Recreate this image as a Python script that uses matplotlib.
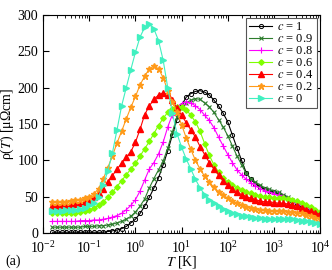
import matplotlib
matplotlib.use("Agg")
import matplotlib.pyplot as plt
import numpy as np

plt.rcParams['font.family'] = ['Liberation Serif', 'DejaVu Serif']
plt.rcParams['mathtext.fontset'] = 'stix'

# log10(T) grid of the calculation
log_T = [-1.8, -1.7, -1.6, -1.5, -1.4, -1.3, -1.2, -1.1, -1.0, -0.9,
         -0.8, -0.7, -0.6, -0.5, -0.4, -0.3, -0.2, -0.1, 0.0, 0.1,
         0.2, 0.3, 0.4, 0.5, 0.6, 0.7, 0.8, 0.9, 1.0, 1.1,
         1.2, 1.3, 1.4, 1.5, 1.6, 1.7, 1.8, 1.9, 2.0, 2.1,
         2.2, 2.3, 2.4, 2.5, 2.6, 2.7, 2.8, 2.9, 3.0, 3.1,
         3.2, 3.3, 3.4, 3.5, 3.6, 3.7, 3.8, 3.9, 4.0]

rho_c1 = [1, 1, 1, 1, 1, 1, 1, 1, 1, 1,
          1, 1, 2, 3, 4, 6, 9, 14, 19, 27,
          37, 49, 62, 76, 94, 113, 135, 156, 176, 187,
          192, 195, 196, 194, 190, 183, 175, 165, 153, 135,
          117, 100, 83, 74, 68, 64, 61, 58, 56, 54,
          51, 47, 44, 40, 37, 34, 31, 28, 25]
rho_c09 = [8, 8, 8, 8, 8, 8, 8, 9, 9, 9,
           10, 10, 11, 12, 14, 16, 19, 23, 29, 37,
           47, 62, 75, 87, 99, 117, 139, 160, 172, 179,
           183, 185, 184, 179, 174, 166, 156, 146, 134, 120,
           106, 94, 82, 75, 70, 66, 62, 60, 58, 56,
           53, 49, 45, 41, 38, 35, 32, 30, 27]
rho_c08 = [16, 16, 16, 16, 16, 16, 17, 17, 17, 18,
           18, 19, 20, 22, 24, 27, 32, 38, 46, 58,
           73, 88, 97, 109, 125, 146, 163, 174, 178, 181,
           179, 175, 170, 162, 155, 145, 132, 120, 108, 97,
           87, 80, 74, 69, 65, 61, 58, 56, 54, 52,
           50, 47, 44, 41, 38, 35, 32, 28, 25]
rho_c06 = [27, 27, 27, 27, 28, 28, 29, 30, 32, 34,
           38, 43, 49, 56, 64, 72, 80, 88, 96, 106,
           116, 126, 137, 148, 158, 166, 171, 174, 174, 170,
           162, 153, 140, 123, 107, 94, 84, 76, 70, 66,
           62, 59, 57, 55, 53, 51, 50, 49, 48, 48,
           48, 47, 46, 44, 42, 39, 36, 32, 29]
rho_c04 = [37, 37, 38, 38, 39, 40, 41, 43, 46, 50,
           55, 61, 70, 79, 88, 96, 104, 112, 125, 143,
           163, 175, 184, 190, 193, 190, 183, 172, 162, 152,
           142, 132, 119, 108, 97, 88, 80, 72, 66, 61,
           56, 53, 50, 48, 46, 44, 43, 43, 42, 41,
           41, 40, 39, 37, 35, 32, 30, 28, 26]
rho_c02 = [43, 43, 43, 43, 44, 45, 46, 48, 50, 54,
           61, 74, 90, 106, 124, 140, 157, 173, 188, 204,
           216, 226, 230, 226, 214, 196, 180, 166, 149, 131,
           115, 100, 88, 78, 70, 63, 57, 52, 48, 44,
           41, 39, 36, 34, 33, 32, 31, 30, 30, 30,
           30, 29, 29, 28, 27, 25, 23, 21, 19]
rho_c0 = [30, 30, 30, 31, 31, 32, 33, 35, 38, 42,
          50, 66, 85, 110, 142, 175, 200, 225, 249, 270,
          283, 288, 281, 265, 238, 200, 165, 137, 118, 102,
          88, 74, 62, 53, 46, 41, 37, 33, 30, 28,
          26, 24, 23, 22, 21, 20, 19, 19, 19, 19,
          19, 19, 19, 18, 17, 16, 15, 14, 12]

labels = ['$c$ = 1', '$c$ = 0.9', '$c$ = 0.8', '$c$ = 0.6',
          '$c$ = 0.4', '$c$ = 0.2', '$c$ = 0']

T = 10.0 ** np.array(log_T)

fig = plt.figure(figsize=(3.32, 2.70), dpi=100)
ax = fig.add_axes([0.13, 0.137, 0.834, 0.807])

series = [rho_c1, rho_c09, rho_c08, rho_c06, rho_c04, rho_c02, rho_c0]
styles = [
    dict(color='black', marker='o', ms=3.0, mfc='none', mew=0.7),
    dict(color='#2d7d2d', marker='x', ms=3.0, mew=0.8),
    dict(color='#ff00ff', marker='+', ms=4.5, mew=0.8),
    dict(color='#7fff00', marker='D', ms=2.8),
    dict(color='red', marker='^', ms=4.0),
    dict(color='#ff9a1a', marker='*', ms=5.0),
    dict(color='#40f0c0', marker='>', ms=4.0),
]
for rho, lab, st in zip(series, labels, styles):
    ax.plot(T, rho, lw=0.8, label=lab, **st)

ax.set_xscale('log')
ax.set_xlim(1e-2, 1e4)
ax.set_ylim(0, 300)
ax.set_yticks([0, 50, 100, 150, 200, 250, 300])
ax.set_xticks([1e-2, 1e-1, 1e0, 1e1, 1e2, 1e3, 1e4])
ax.tick_params(which='both', direction='in', top=True, right=True, labelsize=10)
ax.tick_params(which='major', length=4)
ax.tick_params(which='minor', length=2)
ax.tick_params(axis='x', pad=5)

ax.set_xlabel('$T$ [K]', fontsize=10, labelpad=-1)
ax.set_ylabel(r'ρ($T$) [μΩcm]', fontsize=10, labelpad=1)

leg = ax.legend(loc='upper right', fontsize=9, fancybox=False, framealpha=1,
                edgecolor='#555555', handlelength=1.9, borderpad=0.25,
                labelspacing=0.0, handletextpad=0.4, borderaxespad=0.25)
leg.get_frame().set_linewidth(0.8)

fig.text(0.015, 0.02, '(a)', fontsize=10)

fig.savefig('out.png', dpi=100)
